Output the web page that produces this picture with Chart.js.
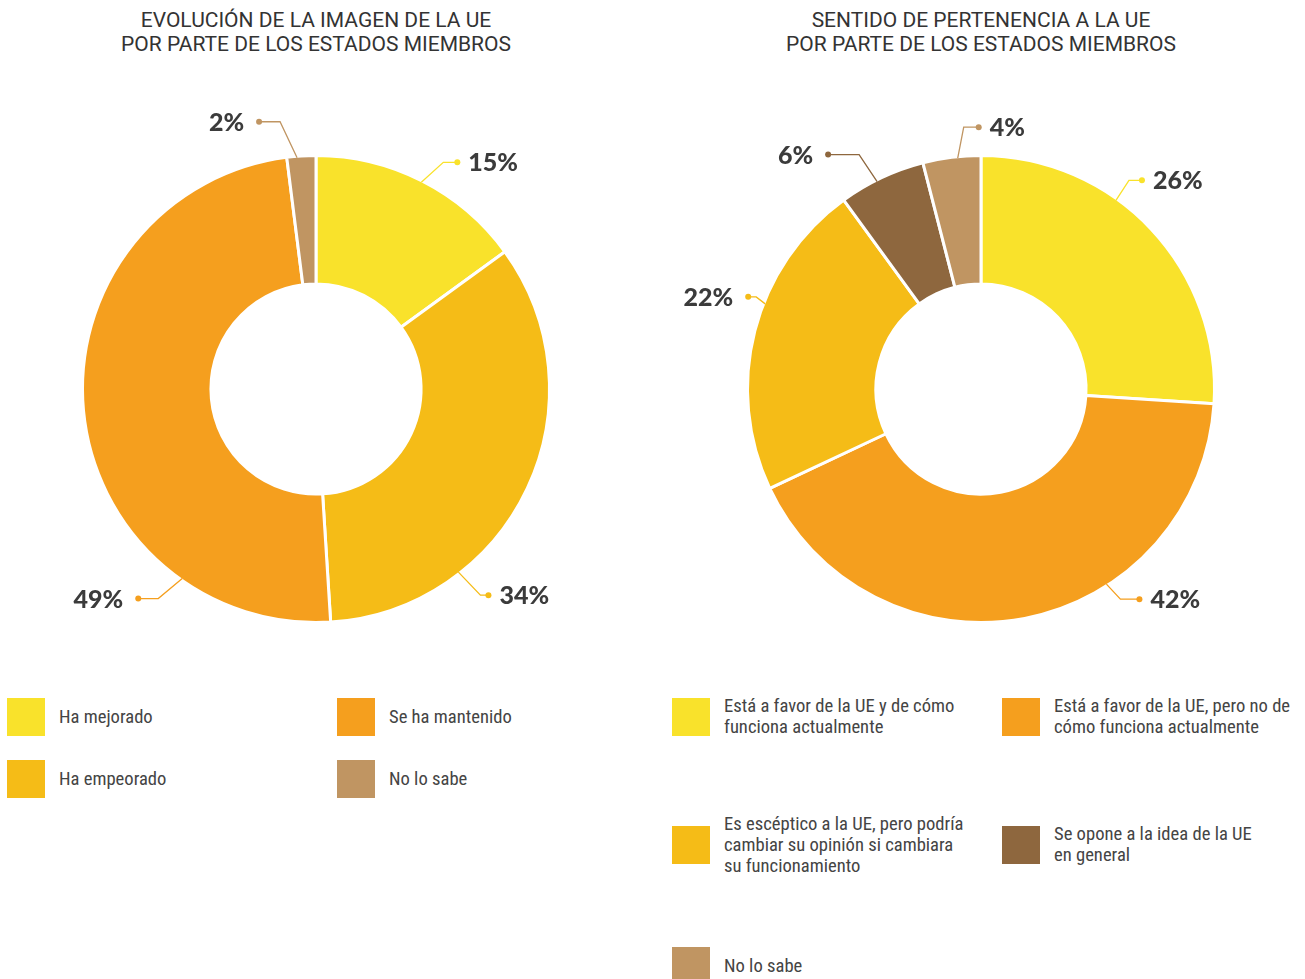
<!DOCTYPE html>
<html>
<head>
<meta charset="utf-8">
<script src="https://cdn.jsdelivr.net/npm/chart.js@4"></script>
<style>
body{margin:0;background:#fff;width:1305px;height:979px;overflow:hidden;position:relative;font-family:Roboto,sans-serif}
.title{position:absolute;top:8px;width:632px;text-align:center;font-size:21px;line-height:24px;color:#333}
.box{position:absolute;top:0;width:632px;height:678px}
.leg{position:absolute;display:flex;align-items:center}
.sw{width:38px;height:38px;flex:none;margin-right:14px}
.lt{font-family:"Roboto Condensed","Liberation Sans Narrow",Roboto,sans-serif;font-stretch:condensed;font-size:18.6px;line-height:21px;color:#444;white-space:nowrap}
</style>
</head>
<body>
<div class="title" style="left:0">EVOLUCIÓN DE LA IMAGEN DE LA UE<br>POR PARTE DE LOS ESTADOS MIEMBROS</div>
<div class="title" style="left:665px">SENTIDO DE PERTENENCIA A LA UE<br>POR PARTE DE LOS ESTADOS MIEMBROS</div>
<div class="box" style="left:0"><canvas id="chart1"></canvas></div>
<div class="box" style="left:665px"><canvas id="chart2"></canvas></div>
<div id="legends"></div>
<script>
// datos
const leftLabels = ['Ha mejorado', 'Ha empeorado', 'Se ha mantenido', 'No lo sabe'];
const leftValues = [15, 34, 49, 2];
const leftColors = ['#F9E22B', '#F5BC17', '#F59F1E', '#C09562'];

const rightLabels = [
  'Está a favor de la UE y de cómo\nfunciona actualmente',
  'Está a favor de la UE, pero no de\ncómo funciona actualmente',
  'Es escéptico a la UE, pero podría\ncambiar su opinión si cambiara\nsu funcionamiento',
  'Se opone a la idea de la UE\nen general',
  'No lo sabe'
];
const rightValues = [26, 42, 22, 6, 4];
const rightColors = ['#F9E22B', '#F59F1E', '#F5BC17', '#8E673E', '#C09562'];

// where each leader line leaves the slice (fraction of slice) and bends
const leftLeaders = [
  {t: 0.5, dx: 22, dy: -20, len: 14},
  {t: 0.72, dx: 22, dy: 23, len: 8},
  {t: 0.22, dx: -24, dy: 20, len: 20},
  {t: 0.35, dx: -17, dy: -36, len: 21}
];
const rightLeaders = [
  {t: 0.38, dx: 13, dy: -20, len: 13},
  {t: 0.355, dx: 14, dy: 15, len: 19},
  {t: 0.59, dx: -9, dy: -7, len: 8},
  {t: 0.435, dx: -18, dy: -27, len: 31},
  {t: 0.6, dx: 6, dy: -31, len: 15}
];

const leaderPlugin = {
  id: 'leaders',
  afterDatasetsDraw(chart, args, opts) {
    const ctx = chart.ctx;
    const ds = chart.data.datasets[0];
    chart.getDatasetMeta(0).data.forEach((arc, i) => {
      const L = opts.list[i];
      const p = arc.getProps(['x', 'y', 'startAngle', 'endAngle', 'outerRadius'], true);
      const a = p.startAngle + (p.endAngle - p.startAngle) * L.t;
      const r = p.outerRadius - 1.5;
      const x0 = p.x + Math.cos(a) * r, y0 = p.y + Math.sin(a) * r;
      const x1 = x0 + L.dx, y1 = y0 + L.dy;
      const dir = L.dx >= 0 ? 1 : -1;
      const x2 = x1 + dir * L.len;
      const col = ds.backgroundColor[i];
      ctx.save();
      ctx.strokeStyle = col;
      ctx.lineWidth = 1.3;
      ctx.beginPath();
      ctx.moveTo(x0, y0); ctx.lineTo(x1, y1); ctx.lineTo(x2, y1);
      ctx.stroke();
      ctx.fillStyle = col;
      ctx.beginPath();
      ctx.arc(x2, y1, 3, 0, Math.PI * 2);
      ctx.fill();
      ctx.font = '900 25px Lato';
      ctx.fillStyle = '#3b3b3b';
      ctx.textBaseline = 'middle';
      ctx.textAlign = dir > 0 ? 'left' : 'right';
      ctx.fillText(ds.data[i] + '%', x2 + (dir > 0 ? 11 : -15), y1 + 1);
      ctx.restore();
    });
  }
};

function makeDonut(id, labels, values, colors, leaders) {
  return new Chart(document.getElementById(id), {
    type: 'doughnut',
    data: {
      labels: labels,
      datasets: [{
        data: values,
        backgroundColor: colors,
        borderColor: '#fff',
        borderWidth: 3,
        radius: 233.5,
        cutout: '45%'
      }]
    },
    options: {
      responsive: true,
      maintainAspectRatio: false,
      animation: false,
      layout: {padding: {top: 100}},
      plugins: {
        legend: {display: false},
        tooltip: {enabled: false},
        leaders: {list: leaders}
      }
    },
    plugins: [leaderPlugin]
  });
}

makeDonut('chart1', leftLabels, leftValues, leftColors, leftLeaders);
makeDonut('chart2', rightLabels, rightValues, rightColors, rightLeaders);

// leyendas
const legendSpots = [
  {labels: leftLabels, colors: leftColors, pos: [[7, 698], [7, 760], [337, 698], [337, 760]]},
  {labels: rightLabels, colors: rightColors, pos: [[672, 698], [1002, 698], [672, 826], [1002, 826], [672, 947]]}
];
const holder = document.getElementById('legends');
legendSpots.forEach(g => {
  g.labels.forEach((lab, i) => {
    const d = document.createElement('div');
    d.className = 'leg';
    d.style.left = g.pos[i][0] + 'px';
    d.style.top = g.pos[i][1] + 'px';
    d.style.height = '38px';
    d.innerHTML = '<div class="sw" style="background:' + g.colors[i] + '"></div><div class="lt">' + lab.split('\n').join('<br>') + '</div>';
    holder.appendChild(d);
  });
});
</script>
</body>
</html>
